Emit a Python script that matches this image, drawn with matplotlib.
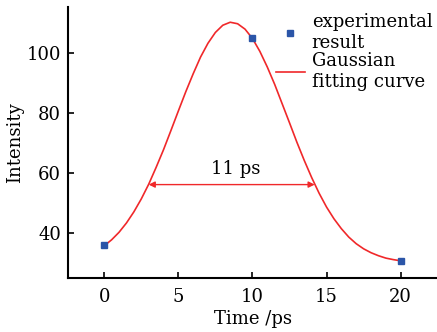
import matplotlib.pyplot as plt

plt.rcParams['font.family'] = 'DejaVu Serif'

# measured points
exp_time = [0, 10, 20]
exp_intensity = [36.0, 105.2, 30.9]

# fitted curve, every 0.5 ps
fit_time = [0.0, 0.5, 1.0, 1.5, 2.0, 2.5, 3.0, 3.5, 4.0, 4.5, 5.0, 5.5, 6.0, 6.5,
            7.0, 7.5, 8.0, 8.5, 9.0, 9.5, 10.0, 10.5, 11.0, 11.5, 12.0, 12.5, 13.0,
            13.5, 14.0, 14.5, 15.0, 15.5, 16.0, 16.5, 17.0, 17.5, 18.0, 18.5, 19.0,
            19.5, 20.0]
fit_intensity = [35.8, 37.8, 40.3, 43.4, 47.1, 51.4, 56.3, 61.9, 67.8, 74.2, 80.7,
                 87.1, 93.1, 98.7, 103.3, 106.9, 109.3, 110.3, 109.8, 108.0, 104.9,
                 100.6, 95.4, 89.6, 83.2, 76.8, 70.3, 64.2, 58.5, 53.3, 48.7, 44.8,
                 41.5, 38.7, 36.5, 34.8, 33.5, 32.5, 31.7, 31.2, 30.8]

fig = plt.figure(figsize=(4.37, 3.32), dpi=100)
ax = fig.add_axes([0.156, 0.162, 0.844, 0.818])

ax.plot(exp_time, exp_intensity, 's', color='#2b55a8', ms=4.5, zorder=3,
        label='experimental\nresult')
ax.plot(fit_time, fit_intensity, '-', color='#f0282a', lw=1.2,
        label='Gaussian\nfitting curve')

ax.annotate('', xy=(3.0, 56.2), xytext=(14.2, 56.2),
            arrowprops=dict(arrowstyle='<|-|>', color='#f0282a', lw=1.0,
                            shrinkA=0, shrinkB=0, mutation_scale=9))
ax.text(8.9, 61.5, '11 ps', ha='center', va='center', fontsize=13)

ax.set_xlim(-2.43, 22.45)
ax.set_ylim(25, 115.5)
ax.set_xticks([0, 5, 10, 15, 20])
ax.set_yticks([40, 60, 80, 100])
ax.set_xlabel('Time /ps', fontsize=13, labelpad=3)
ax.set_ylabel('Intensity', fontsize=13, labelpad=2)
ax.tick_params(direction='in', length=4, width=1.2, labelsize=13)
ax.tick_params(axis='x', pad=7)
ax.tick_params(axis='y', pad=5)
for s in ['top', 'right']:
    ax.spines[s].set_visible(False)
for s in ['left', 'bottom']:
    ax.spines[s].set_linewidth(1.5)

ax.legend(loc='upper right', bbox_to_anchor=(1.022, 1.022), frameon=False, fontsize=13,
          handlelength=1.6, handletextpad=0.4, labelspacing=0.0, borderpad=0.2)

plt.savefig('out.png', dpi=100)
